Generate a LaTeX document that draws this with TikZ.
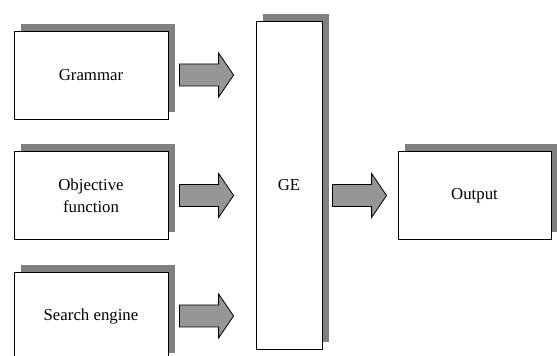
\documentclass[tikz,border=0pt]{standalone}
\usepackage{fontspec}
\setmainfont{Liberation Serif}
\usetikzlibrary{calc,shadows}
\definecolor{shadowgray}{HTML}{808080}
\definecolor{arrowgray}{HTML}{969696}
\newcommand\blockarrow[2]{%
  \draw[barrow] let \p1=(#1), \p2=(#2) in
    (\x1,\y1-11pt) -- (\x2-15pt,\y1-11pt) -- (\x2-15pt,\y1-22pt) -- (\x2,\y1)
    -- (\x2-15pt,\y1+22pt) -- (\x2-15pt,\y1+11pt) -- (\x1,\y1+11pt) -- cycle;}
\begin{document}
\begin{tikzpicture}[x=1pt,y=1pt,
  box/.style={draw=black, fill=white, line width=0.8pt, align=center,
    font=\fontsize{16.8}{22}\selectfont, inner sep=0pt,
    general shadow={fill=shadowgray, draw=none, shadow xshift=7pt, shadow yshift=7pt}},
  wbox/.style={box, minimum width=154pt, minimum height=88pt},
  barrow/.style={draw=black, fill=arrowgray, line width=0.8pt, line join=miter}]
\useasboundingbox (0,0) rectangle (557,356);
\clip (0,0) rectangle (557,356);
\node[wbox] (gram) at (91,281) {Grammar};
\node[wbox] (obj) at (91,160.5) {Objective\\function};
\node[wbox] (search) at (91,40) {Search engine};
\node[box, minimum width=66pt, minimum height=328pt] (ge) at (289,171) {GE};
\node[wbox, minimum width=153pt] (out) at (474.5,160.5) {Output};
\coordinate (a1s) at ($(gram.east)+(11,0)$);
\coordinate (a1e) at ($(ge.west|-gram.east)+(-22,0)$);
\coordinate (a2s) at ($(obj.east)+(11,0)$);
\coordinate (a2e) at ($(ge.west|-obj.east)+(-22,0)$);
\coordinate (a3s) at ($(search.east)+(11,0)$);
\coordinate (a3e) at ($(ge.west|-search.east)+(-22,0)$);
\coordinate (a4s) at ($(ge.east|-out.west)+(10,0)$);
\coordinate (a4e) at ($(out.west)+(-11,0)$);
\blockarrow{a1s}{a1e}
\blockarrow{a2s}{a2e}
\blockarrow{a3s}{a3e}
\blockarrow{a4s}{a4e}
\end{tikzpicture}
\end{document}
